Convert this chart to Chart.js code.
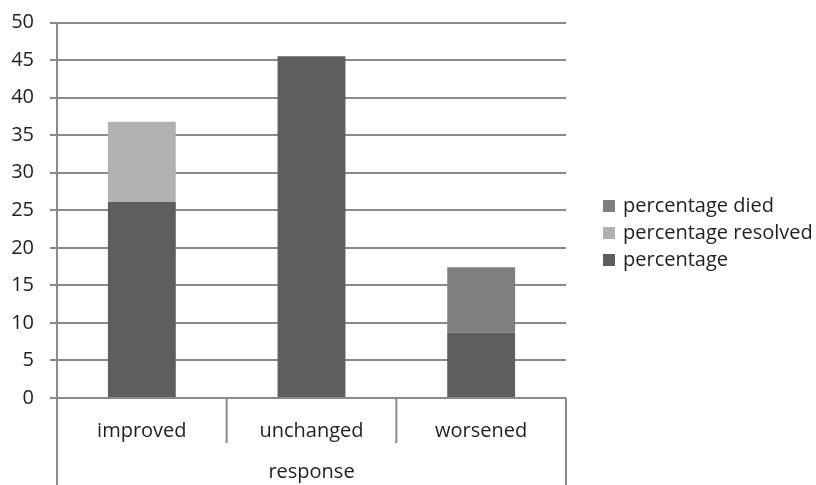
<!DOCTYPE html>
<html>
<head>
<meta charset="utf-8">
<script src="https://cdn.jsdelivr.net/npm/chart.js@4/dist/chart.umd.min.js"></script>
<style>
  html, body { margin: 0; padding: 0; background: #ffffff; }
  #wrap { width: 816px; height: 485px; }
</style>
</head>
<body>
<div id="wrap"><canvas id="c" width="816" height="485"></canvas></div>
<script>
// Response categories and stacked percentages
const categories = ['improved', 'unchanged', 'worsened'];
const percentage = [26.1, 45.5, 8.7];
const percentageResolved = [10.7, null, null];
const percentageDied = [null, null, 8.7];
const yTicks = [0, 5, 10, 15, 20, 25, 30, 35, 40, 45, 50];
const axisTitle = 'response';

const FONT = '"Open Sans", "Liberation Sans", sans-serif';
const FSIZE = 20;
const TEXT = '#1f1f1f';
const LINE = '#8a8a8a';

// Multi-level category frame: separators below the axis and the outer box edges
const frameLines = {
  id: 'frameLines',
  afterDraw(chart) {
    const ctx = chart.ctx;
    const xs = chart.scales.x;
    const area = chart.chartArea;
    const n = categories.length;
    const step = (xs.getPixelForValue(1) - xs.getPixelForValue(0));
    ctx.save();
    ctx.strokeStyle = LINE;
    ctx.lineWidth = 2;
    for (let i = 0; i <= n; i++) {
      const x = xs.getPixelForValue(0) - step / 2 + i * step;
      const outer = (i === 0 || i === n);
      ctx.beginPath();
      ctx.moveTo(x, outer && i === 0 ? area.top : area.bottom);
      ctx.lineTo(x, outer ? chart.height : area.bottom + 45);
      ctx.stroke();
    }
    ctx.restore();
  }
};

// Legend on the right, listing series top-down in reverse stacking order
const sideLegend = {
  id: 'sideLegend',
  afterDraw(chart) {
    const ctx = chart.ctx;
    const ds = chart.data.datasets.slice().reverse();
    const x0 = chart.chartArea.right + 37;
    const y0 = 206;
    ctx.save();
    ctx.font = FSIZE + 'px ' + FONT;
    ctx.textBaseline = 'middle';
    ds.forEach((d, i) => {
      const y = y0 + i * 27;
      ctx.fillStyle = d.backgroundColor;
      ctx.fillRect(x0, y - 6, 12, 12);
      ctx.fillStyle = TEXT;
      ctx.fillText(d.label, x0 + 20, y);
    });
    ctx.restore();
  }
};

new Chart(document.getElementById('c'), {
  type: 'bar',
  data: {
    labels: categories,
    datasets: [
      { label: 'percentage', data: percentage, backgroundColor: '#5e5e5e' },
      { label: 'percentage resolved', data: percentageResolved, backgroundColor: '#b1b1b1' },
      { label: 'percentage died', data: percentageDied, backgroundColor: '#7f7f7f' }
    ]
  },
  options: {
    responsive: false,
    animation: false,
    layout: { padding: { top: 0, right: 250, left: 0, bottom: 0 } },
    datasets: { bar: { categoryPercentage: 1.0, barPercentage: 0.4 } },
    plugins: { legend: { display: false }, tooltip: { enabled: false } },
    scales: {
      x: {
        stacked: true,
        grid: { display: false },
        border: { display: false },
        ticks: { color: TEXT, font: { family: FONT, size: FSIZE }, padding: 13, maxRotation: 0 },
        title: { display: true, text: axisTitle, color: TEXT, font: { family: FONT, size: FSIZE }, padding: { top: 0, bottom: 1 } },
        afterFit(s) { s.height = 87; }
      },
      y: {
        stacked: true,
        min: 0,
        max: 50,
        afterBuildTicks(s) { s.ticks = yTicks.map(v => ({ value: v })); },
        grid: { color: LINE, lineWidth: 2, tickLength: 7, drawTicks: true },
        border: { display: true, color: LINE, width: 2 },
        ticks: { color: TEXT, font: { family: FONT, size: FSIZE, lineHeight: 0.65 }, padding: 16 },
        afterFit(s) { s.width = 57; }
      }
    }
  },
  plugins: [frameLines, sideLegend]
});
</script>
</body>
</html>
